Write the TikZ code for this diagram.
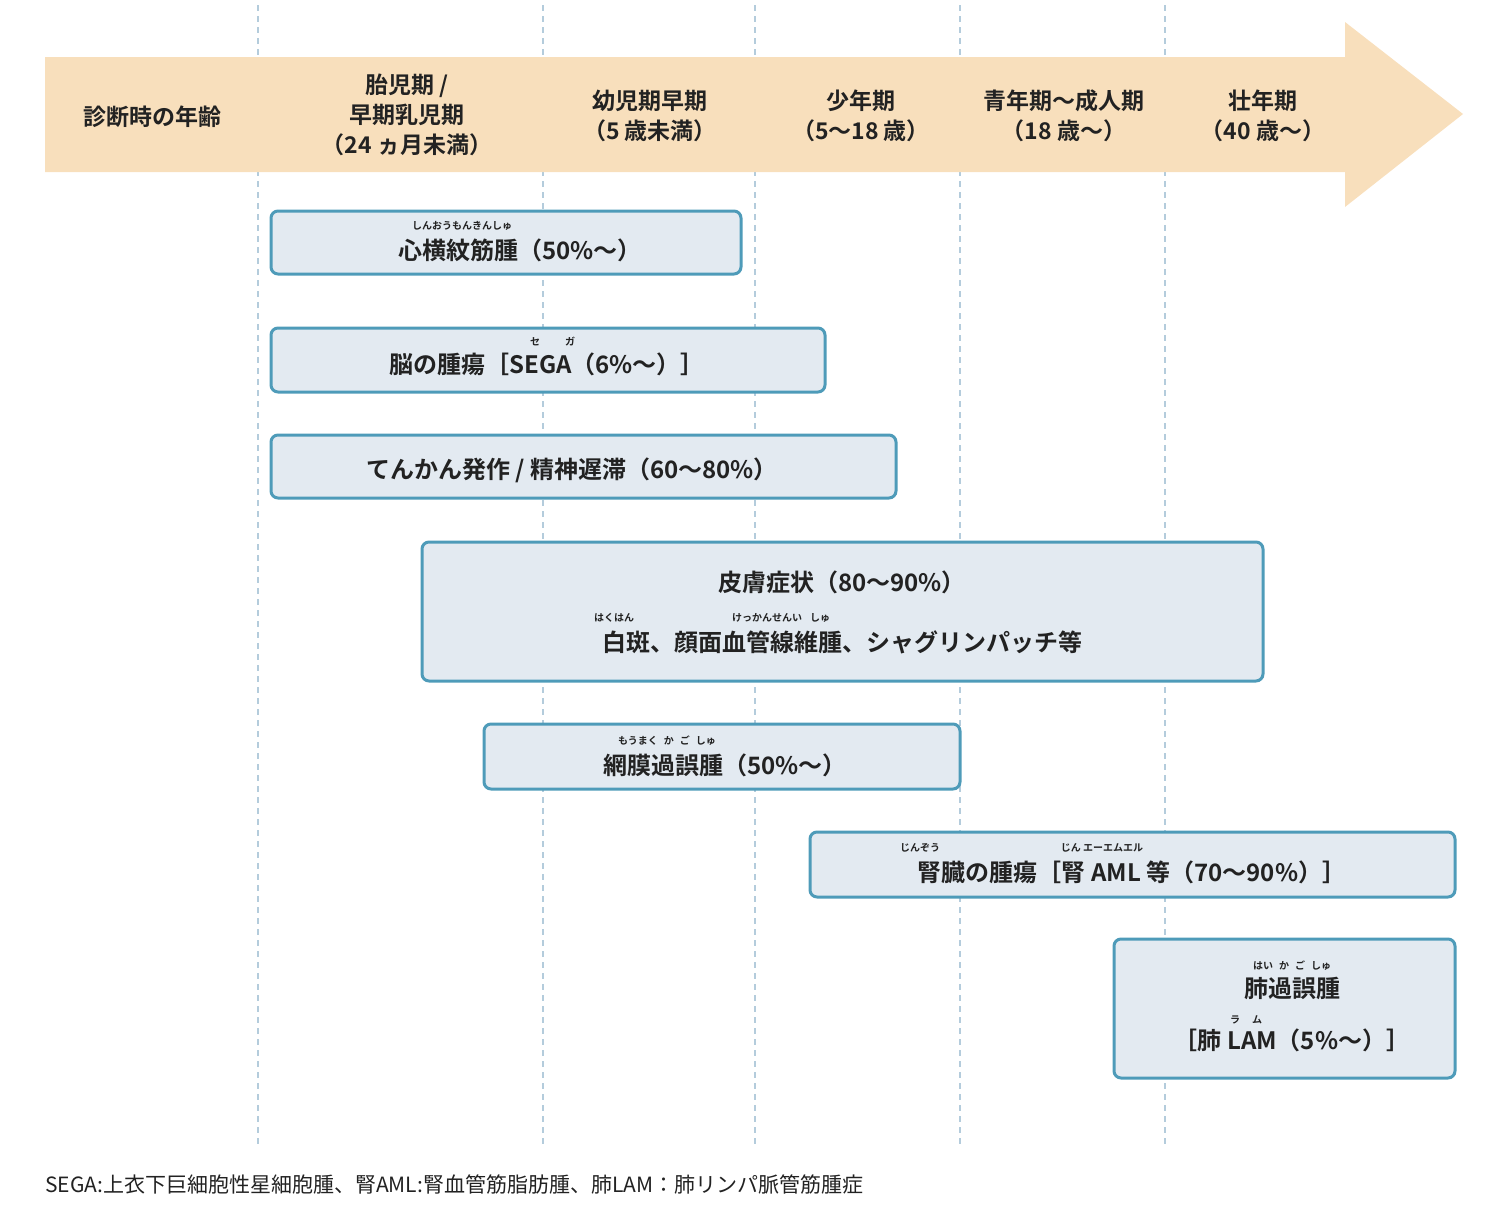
\documentclass[tikz,border=0pt]{standalone}
\usepackage{fontspec}
\setmainfont{Noto Sans CJK JP}
\newfontfamily\jpb{Noto Sans CJK JP Bold}
\definecolor{band}{HTML}{F8DFBC}
\definecolor{vline}{HTML}{B4CCDC}
\definecolor{bfill}{HTML}{E3EAF1}
\definecolor{bdraw}{HTML}{4E9BB9}
\definecolor{txt}{HTML}{222222}
\tikzset{
 bx/.style={draw=bdraw,line width=3pt,fill=bfill,rounded corners=7pt},
 hd/.style={font=\jpb\fontsize{23}{30}\selectfont,text=txt,align=center,inner sep=0},
 mt/.style={font=\jpb\fontsize{24}{30}\selectfont,text=txt,inner sep=0},
 rb/.style={font=\jpb\fontsize{10}{12}\selectfont,text=txt,inner sep=0},
}
\begin{document}
\begin{tikzpicture}[x=1pt,y=-1pt]
\path[use as bounding box] (0,0) rectangle (1508,1208);
\foreach \x in {258,543,755,960,1165}
 \draw[vline,line width=1.5pt,dash pattern=on 6pt off 5pt] (\x,5) -- (\x,1148);
\fill[band] (45,57) -- (1345,57) -- (1345,22) -- (1463,114) -- (1345,207) -- (1345,172) -- (45,172) -- cycle;
\node[hd] (h0) at (152,117) {診断時の年齢};
\node[hd] (h1) at (407,115) {胎児期 /\\早期乳児期\\（24 ヵ月未満）};
\node[hd] (h2) at (650,116) {幼児期早期\\（5 歳未満）};
\node[hd] (h3) at (861,116) {少年期\\（5〜18 歳）};
\node[hd] (h4) at (1064,116) {青年期〜成人期\\（18 歳〜）};
\node[hd] (h5) at (1263,116) {壮年期\\（40 歳〜）};

\draw[bx] (271,211) rectangle (741,274);
\node[mt] (t1) at (520,250) {心横紋筋腫（50\%〜）};
\node[rb] (r1) at (462,226) {しんおうもんきんしゅ};

\draw[bx] (271,328) rectangle (825,392);
\node[mt] (t2) at (547,364) {脳の腫瘍［SEGA（6\%〜）］};
\node[rb] (r2a) at (535,342) {セ};
\node[rb] (r2b) at (570,342) {ガ};

\draw[bx] (271,435) rectangle (896,498);
\node[mt] (t3) at (572,470) {てんかん発作 / 精神遅滞（60〜80\%）};

\draw[bx] (422,542) rectangle (1263,681);
\node[mt] (t4) at (842,582) {皮膚症状（80〜90\%）};
\node[mt] (t4b) at (842,642) {白斑、顔面血管線維腫、シャグリンパッチ等};
\node[rb] (r4a) at (614,618) {はくはん};
\node[rb] (r4b) at (781,618) {けっかんせんい\hspace{8pt}しゅ};

\draw[bx] (484,724) rectangle (960,789);
\node[mt] (t5) at (725,765) {網膜過誤腫（50\%〜）};
\node[rb] (r5) at (667,741) {もうまく\hspace{6pt}か\hspace{6pt}ご\hspace{6pt}しゅ};

\draw[bx] (810,832) rectangle (1455,897);
\node[mt] (t6) at (1132,872) {腎臓の腫瘍［腎 AML 等（70〜90\%）］};
\node[rb] (r6a) at (920,848) {じんぞう};
\node[rb] (r6b) at (1102,848) {じん エーエムエル};

\draw[bx] (1114,939) rectangle (1455,1078);
\node[mt] (t7) at (1292,988) {肺過誤腫};
\node[rb] (r7) at (1292,966) {はい\hspace{6pt}か\hspace{6pt}ご\hspace{6pt}しゅ};
\node[mt] (t7b) at (1292,1040) {［肺 LAM（5\%〜）］};
\node[rb] (r7b) at (1246,1020) {ラ\hspace{12pt}ム};

\node[anchor=west,inner sep=0,text=txt,font=\fontsize{21}{26}\selectfont] (fn) at (45,1185) {SEGA:上衣下巨細胞性星細胞腫、腎AML:腎血管筋脂肪腫、肺LAM：肺リンパ脈管筋腫症};
\end{tikzpicture}
\end{document}
